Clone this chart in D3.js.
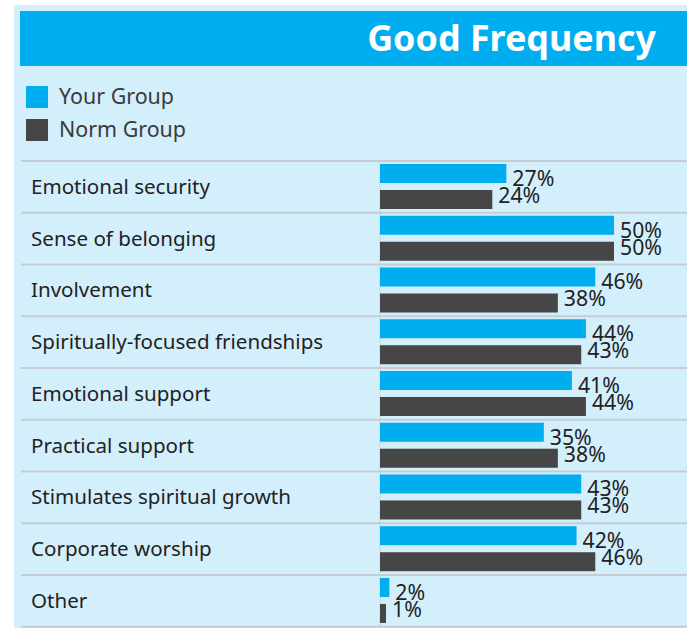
<!DOCTYPE html>
<html><head><meta charset="utf-8">
<script src="https://cdn.jsdelivr.net/npm/d3@7"></script>
<style>body{margin:0;background:#fff}svg{display:block}</style>
</head><body>
<script>
const title = "Good Frequency";
const seriesNames = ["Your Group", "Norm Group"];
const categories = ["Emotional security","Sense of belonging","Involvement","Spiritually-focused friendships","Emotional support","Practical support","Stimulates spiritual growth","Corporate worship","Other"];
const yourGroup = [27,50,46,44,41,35,43,42,2];
const normGroup = [24,50,38,43,44,38,43,46,1];

const W=687,H=628;
const colors=["#00adef","#464646"];
const FONT="'Noto Sans', sans-serif";
const svg=d3.select("body").append("svg").attr("width",W).attr("height",H);

function fit(sel,target){ // scale font size so the text width matches target
  const n=sel.node(); const fs=parseFloat(sel.attr("font-size"));
  const w=n.getComputedTextLength(); return fs*target/w;
}

svg.append("rect").attr("x",14).attr("y",5).attr("width",W-14).attr("height",H-5).attr("fill","#d4effc");
svg.append("rect").attr("x",20).attr("y",11).attr("width",W-20).attr("height",55).attr("fill","#00adef");
const t=svg.append("text").attr("x",656).attr("y",51).attr("text-anchor","end")
  .attr("font-family",FONT).attr("font-weight","bold").attr("font-size",30).attr("fill","#fff").text(title);
t.attr("font-size",fit(t,289));

// legend
const leg=svg.append("g");
seriesNames.forEach((s,i)=>{
  leg.append("rect").attr("x",26).attr("y",86+i*33).attr("width",22).attr("height",22).attr("fill",colors[i]);
  const lt=leg.append("text").attr("x",59).attr("y",104+i*33).attr("font-family",FONT).attr("font-size",20).attr("fill","#3a3a3a").text(s);
});
let lfs=fit(leg.select("text"),115); leg.selectAll("text").attr("font-size",lfs);

const y=d3.scaleBand().domain(categories).range([161,626.7]);
const x=d3.scaleLinear().domain([0,50]).range([380,614]);

const g=svg.append("g");
// separators
g.selectAll("line.sep").data(categories).join("line").attr("class","sep")
  .attr("x1",21).attr("x2",W).attr("y1",d=>y(d)).attr("y2",d=>y(d)).attr("stroke","#c6cdd2").attr("stroke-width",2);
g.append("line").attr("x1",21).attr("x2",W).attr("y1",y.range()[1]).attr("y2",y.range()[1]).attr("stroke","#c6cdd2").attr("stroke-width",2);
g.append("line").attr("x1",x(0)).attr("x2",x(0)).attr("y1",161).attr("y2",626.7).attr("stroke","#c9d3d8").attr("stroke-width",1);

// category labels
const cl=g.selectAll("text.cat").data(categories).join("text").attr("class","cat")
  .attr("x",31).attr("y",d=>y(d)+y.bandwidth()/2+7).attr("font-family",FONT).attr("font-size",20).attr("fill","#222").text(d=>d);
const cfs=fit(d3.select(cl.nodes()[0]),179); cl.attr("font-size",cfs);

// bars
const data=categories.map((c,i)=>({c,v:[yourGroup[i],normGroup[i]]}));
[0,1].forEach(k=>{
  g.selectAll("rect.b"+k).data(data).join("rect").attr("class","b"+k)
    .attr("x",x(0)).attr("y",d=>y(d.c)+(k?29:3)).attr("height",19)
    .attr("width",d=>Math.max(x(d.v[k])-x(0),k?6:9)).attr("fill",colors[k]);
  const lab=g.selectAll("text.l"+k).data(data).join("text").attr("class","l"+k)
    .attr("x",d=>Math.max(x(d.v[k]),x(0)+(k?6:9))+6).attr("y",d=>y(d.c)+(k?42:25))
    .attr("font-family",FONT).attr("font-size",20).attr("fill","#222").text(d=>d.v[k]+"%");
  const pfs=fit(d3.select(lab.nodes()[0]),k?42:42); lab.attr("font-size",pfs);
});
</script>
</body></html>
